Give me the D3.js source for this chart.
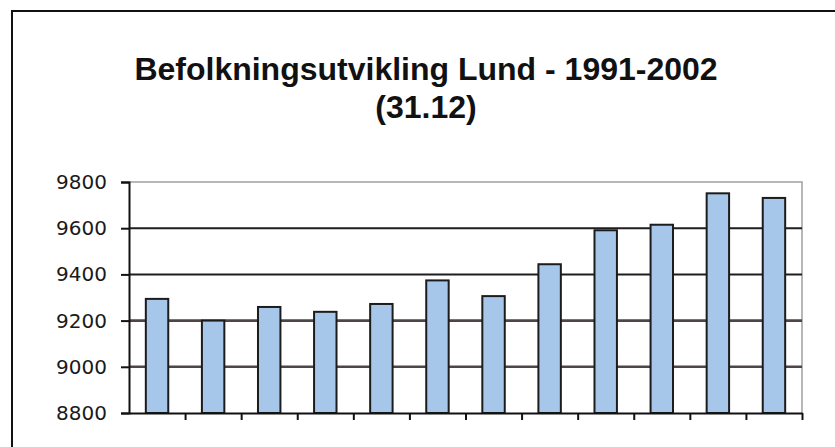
<!DOCTYPE html>
<html>
<head>
<meta charset="utf-8">
<script src="https://cdn.jsdelivr.net/npm/d3@7"></script>
<style>
  body { margin: 0; background: #fff; }
  .y-axis text { font-family: "DejaVu Sans", sans-serif; font-size: 20px; fill: #1a1a1a; }
  .title { font-family: "Liberation Sans", Arial, sans-serif; font-weight: bold; fill: #111; }
</style>
</head>
<body>
<div id="chart-area"></div>
<script>

// Data
let years = ["1991", "1992", "1993", "1994", "1995", "1996",
             "1997", "1998", "1999", "2000", "2001", "2002"];
let population = [9294, 9200, 9259, 9238, 9272, 9374,
                  9306, 9444, 9591, 9615, 9751, 9731];
let yTicks = [8800, 9000, 9200, 9400, 9600, 9800];
let titleLines = ["Befolkningsutvikling Lund - 1991-2002", "(31.12)"];

// SVG drawing area
let margin = {top: 182, right: 33, bottom: 34, left: 129};
let width = 835 - margin.left - margin.right,
    height = 447 - margin.top - margin.bottom;

let root = d3.select("#chart-area").append("svg")
    .attr("width", 835)
    .attr("height", 447);

// outer frame (runs off the right and bottom edge)
root.append("rect")
    .attr("x", 12)
    .attr("y", 11)
    .attr("width", 900)
    .attr("height", 600)
    .attr("fill", "none")
    .attr("stroke", "#111")
    .attr("stroke-width", 2);

// title
root.append("text")
    .attr("class", "title")
    .attr("text-anchor", "middle")
    .selectAll("tspan")
    .data(titleLines)
  .enter().append("tspan")
    .attr("x", 426)
    .attr("y", (d, i) => 80 + i * 38)
    .style("font-size", "32px")
    .text(d => d);

let svg = root.append("g")
    .attr("transform", "translate(" + margin.left + "," + margin.top + ")");

// Scales
let y = d3.scaleLinear()
    .domain([8800, 9800])
    .range([height, 0]);

let x = d3.scaleBand()
    .domain(years)
    .range([0, width])
    .paddingInner(0.6)
    .paddingOuter(0.3);

// category boundaries for the x ticks
let xEdges = d3.scaleLinear()
    .domain([0, years.length])
    .range([0, width]);

// plot area border (top + right), grey
svg.append("path")
    .attr("d", "M0,0H" + width + "V" + height)
    .attr("fill", "none")
    .attr("stroke", "#a0a0a0")
    .attr("stroke-width", 1.5);

// gridlines
svg.append("g")
    .selectAll("line")
    .data(yTicks.slice(1, -1))
  .enter().append("line")
    .attr("x1", 0)
    .attr("x2", width)
    .attr("y1", d => y(d))
    .attr("y2", d => y(d))
    .attr("stroke", d => d >= 9400 ? "#1e1e1e" : "#4e4646")
    .attr("stroke-width", d => d >= 9400 ? 2 : 2.6);

// bars
svg.selectAll(".bar")
    .data(population)
  .enter().append("rect")
    .attr("class", "bar")
    .attr("x", (d, i) => x(years[i]))
    .attr("y", d => y(d))
    .attr("width", x.bandwidth())
    .attr("height", d => height - y(d))
    .attr("fill", "#a7c7ea")
    .attr("stroke", "#1c1c1c")
    .attr("stroke-width", 2);

// axes
let yAxis = d3.axisLeft(y)
    .tickValues(yTicks)
    .tickSize(8)
    .tickPadding(14)
    .tickFormat(d3.format("d"));

let yAxisG = svg.append("g")
    .attr("class", "y-axis axis")
    .call(yAxis);
yAxisG.select(".domain").attr("stroke", "#111").attr("stroke-width", 2);
yAxisG.selectAll(".tick line").attr("stroke", "#111").attr("stroke-width", 2);

let xAxis = d3.axisBottom(xEdges)
    .tickValues(d3.range(1, years.length + 1))
    .tickSize(7)
    .tickFormat("")
    .tickSizeOuter(0);

let xAxisG = svg.append("g")
    .attr("class", "x-axis axis")
    .attr("transform", "translate(0," + height + ")")
    .call(xAxis);
xAxisG.select(".domain").attr("stroke", "#111").attr("stroke-width", 2);
xAxisG.selectAll(".tick line").attr("stroke", "#111").attr("stroke-width", 2);

</script>
</body>
</html>
